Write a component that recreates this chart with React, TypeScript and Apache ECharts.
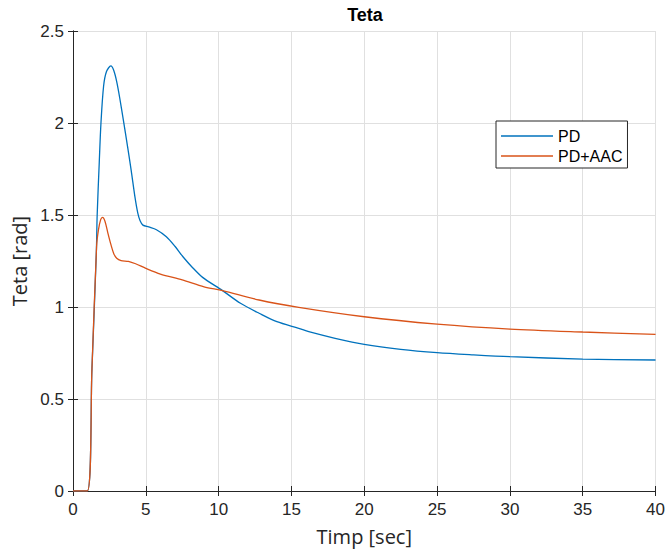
import React, { useEffect, useRef } from "react";
import * as echarts from "echarts";

const seriesNames = ["PD", "PD+AAC"];

const pdX = [0, 0.98, 1.3, 1.6, 1.66, 1.8, 1.92, 2.1, 2.3, 2.6, 2.8, 3.0, 3.2, 3.45, 3.75, 4.0, 4.25, 4.45, 4.6, 4.8, 5.2, 5.73, 6.41, 7.0, 7.55, 8.2, 8.9, 10.27, 11.5, 12.78, 14, 15.5, 16.19, 18, 20, 22.5, 25, 27.5, 30, 35, 40];
const pdY = [0, 0, 0.66, 1.29, 1.5, 1.78, 2.0, 2.2, 2.28, 2.31, 2.285, 2.225, 2.14, 2.02, 1.87, 1.74, 1.6, 1.51, 1.47, 1.445, 1.435, 1.42, 1.382, 1.33, 1.273, 1.215, 1.161, 1.089, 1.02, 0.966, 0.92, 0.884, 0.866, 0.83, 0.797, 0.77, 0.752, 0.74, 0.73, 0.717, 0.712];

const aacX = [0, 0.98, 1.3, 1.62, 1.75, 1.9, 2.03, 2.2, 2.4, 2.6, 2.8, 3.0, 3.3, 3.8, 4.3, 5, 6, 7.5, 9, 10.27, 12.78, 15.5, 20, 25, 30, 35, 40];
const aacY = [0, 0, 0.66, 1.33, 1.42, 1.475, 1.487, 1.465, 1.4, 1.34, 1.29, 1.265, 1.252, 1.248, 1.235, 1.21, 1.179, 1.147, 1.11, 1.089, 1.038, 0.998, 0.947, 0.907, 0.88, 0.864, 0.851];

const xTicks = { min: 0, max: 40, interval: 5 };
const yTicks = { min: 0, max: 2.5, interval: 0.5 };

const colors = ["#0072BD", "#D95319"];

export default function App() {
  const ref = useRef<HTMLDivElement>(null);
  useEffect(() => {
    document.body.style.margin = "0";
    if (!ref.current) return;
    const chart = echarts.init(ref.current, null, { renderer: "svg" });
    const axisColor = "#262626";
    const labelFont = "'Liberation Sans', Arial, sans-serif";
    const nameFont = "'Open Sans', 'Noto Sans', sans-serif";
    const pd = pdX.map((x, i) => [x, pdY[i]]);
    const aac = aacX.map((x, i) => [x, aacY[i]]);
    const boxAxis = {
      axisLine: { show: true, lineStyle: { color: axisColor, width: 1 } },
      axisTick: { show: true, inside: true, length: 5, lineStyle: { color: axisColor } },
      axisLabel: { show: false },
      splitLine: { show: false },
    };
    chart.setOption({
      animation: false,
      backgroundColor: "#ffffff",
      title: {
        text: "Teta",
        left: 365,
        top: 6,
        padding: 0,
        textAlign: "center",
        textStyle: { fontFamily: labelFont, fontWeight: "bold", fontSize: 18, color: "#000" },
      },
      grid: { left: 73, right: 10, top: 31, bottom: 61 },
      legend: {
        data: seriesNames,
        orient: "vertical",
        left: 496,
        top: 121,
        backgroundColor: "#ffffff",
        borderColor: axisColor,
        borderWidth: 1,
        borderRadius: 0,
        padding: [7, 5, 4, 5],
        itemGap: 4,
        itemWidth: 52,
        itemHeight: 1.5,
        icon: "rect",
        textStyle: { fontFamily: labelFont, fontSize: 16, color: "#000" },
      },
      xAxis: [
        {
          type: "value",
          ...xTicks,
          position: "bottom",
          name: "Timp [sec]",
          nameLocation: "middle",
          nameGap: 35,
          nameTextStyle: { fontFamily: nameFont, fontSize: 20, color: axisColor },
          axisLine: { show: true, onZero: false, lineStyle: { color: axisColor, width: 1 } },
          axisTick: { show: true, inside: true, length: 5, lineStyle: { color: axisColor } },
          axisLabel: { fontFamily: labelFont, fontSize: 17, color: axisColor, margin: 10 },
          splitLine: { show: true, lineStyle: { color: "#e0e0e0", width: 1 } },
        },
        { type: "value", ...xTicks, position: "top", ...boxAxis },
      ],
      yAxis: [
        {
          type: "value",
          ...yTicks,
          position: "left",
          name: "Teta [rad]",
          nameLocation: "middle",
          nameGap: 39,
          nameTextStyle: { fontFamily: nameFont, fontSize: 20, color: axisColor },
          axisLine: { show: true, onZero: false, lineStyle: { color: axisColor, width: 1 } },
          axisTick: { show: true, inside: true, length: 5, lineStyle: { color: axisColor } },
          axisLabel: { fontFamily: labelFont, fontSize: 17, color: axisColor, margin: 9 },
          splitLine: { show: true, lineStyle: { color: "#e0e0e0", width: 1 } },
        },
        { type: "value", ...yTicks, position: "right", ...boxAxis },
      ],
      series: [
        {
          name: seriesNames[0],
          type: "line",
          data: pd,
          showSymbol: false,
          symbol: "none",
          smooth: 0.3,
          lineStyle: { color: colors[0], width: 1.3 },
          itemStyle: { color: colors[0] },
        },
        {
          name: seriesNames[1],
          type: "line",
          data: aac,
          showSymbol: false,
          symbol: "none",
          smooth: 0.3,
          lineStyle: { color: colors[1], width: 1.3 },
          itemStyle: { color: colors[1] },
        },
      ],
    });
    return () => chart.dispose();
  }, []);
  return <div ref={ref} style={{ width: 668, height: 552 }} />;
}
